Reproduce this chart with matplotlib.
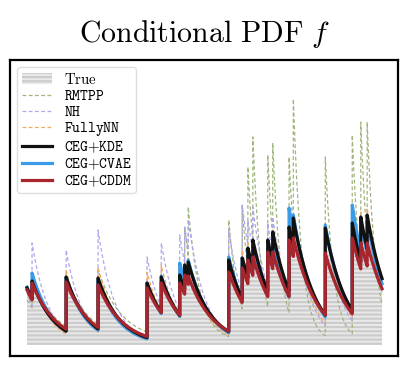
import numpy as np
import matplotlib
matplotlib.use("Agg")
import matplotlib.pyplot as plt

plt.rcParams['mathtext.fontset'] = 'cm'
plt.rcParams['hatch.linewidth'] = 1.6

# ---------------- data ----------------
t_end = 50.0
events = [0.7, 5.5, 10.0, 16.9, 18.9, 21.5, 22.2, 22.7, 28.4, 30.3,
          31.1, 31.8, 33.9, 34.6, 36.9, 37.5, 42.0, 45.8, 47.0, 47.9]

# value at t=0, then value right after each event
true_peaks = [2.8, 3.1, 3.25, 3.15, 2.95, 3.2, 3.3, 3.7, 3.8, 3.9, 4.1, 4.5,
              4.8, 4.9, 5.1, 5.5, 5.8, 5.2, 5.7, 5.7, 5.8]
rmtpp_peaks = [2.25, 3.3, 3.4, 3.75, 3.2, 3.4, 3.6, 5.9, 6.9, 6.25, 7.0, 8.9,
               10.4, 9.5, 10.1, 9.4, 12.3, 9.4, 10.5, 11.15, 11.15]
nh_peaks = [2.6, 5.1, 4.75, 5.75, 4.4, 5.1, 5.5, 5.9, 6.25, 5.75, 7.0, 6.25,
            6.9, 6.1, 6.4, 5.8, 6.4, 5.9, 6.2, 6.3, 6.4]
fullynn_peaks = [2.9, 3.5, 3.75, 3.9, 3.65, 4.0, 3.85, 4.15, 4.35, 4.5, 4.75,
                 5.1, 5.35, 5.0, 5.75, 5.9, 6.35, 6.1, 6.5, 6.65, 6.85]
kde_peaks = [2.85, 3.2, 3.4, 3.35, 3.1, 3.4, 3.5, 4.0, 4.15, 4.25, 4.35, 4.85,
             5.25, 5.25, 5.65, 5.9, 6.35, 5.85, 6.1, 6.4, 6.5]
cvae_peaks = [2.9, 3.6, 3.4, 3.25, 3.1, 3.45, 4.1, 4.0, 4.25, 4.4, 4.35, 4.75,
              5.0, 5.0, 5.25, 6.85, 6.5, 6.0, 7.0, 6.25, 6.25]
cddm_peaks = [2.75, 3.1, 3.15, 3.0, 2.85, 3.1, 3.1, 3.5, 3.45, 3.65, 3.85,
              4.25, 4.4, 4.65, 4.65, 5.25, 5.35, 4.6, 5.35, 5.1, 5.1]

# decay rate of each segment (RMTPP changes between the early and late parts)
rmtpp_decay = [0.3, 0.3, 0.3, 0.3, 0.3, 0.3, 0.5, 0.6, 0.6, 0.7, 0.8, 0.8,
               0.85, 0.85, 0.85, 0.85, 0.85, 0.85, 0.85, 0.85, 0.85]
decay = {'true': 0.29, 'nh': 0.42, 'fullynn': 0.39,
         'kde': 0.32, 'cvae': 0.34, 'cddm': 0.284}
rmtpp_base = 0.2


def intensity(peaks, rate, mu=0.0):
    starts = [0.0] + list(events)
    ends = list(events) + [t_end]
    rates = rate if np.ndim(rate) else [rate] * len(starts)
    ts, vs = [], []
    for s, e, p, r in zip(starts, ends, peaks, rates):
        tt = np.linspace(s, e, 60)
        ts.append(tt)
        vs.append(mu + (p - mu) * np.exp(-r * (tt - s)))
    return np.concatenate(ts), np.concatenate(vs)


fig = plt.figure(figsize=(4.07, 3.67), dpi=100)
ax = fig.add_axes([0.0246, 0.030, 0.9534, 0.8065])

t, y = intensity(true_peaks, decay['true'])
ax.fill_between(t, 0, y, facecolor='#e9e9e9', edgecolor='#cccccc',
                hatch='----', linewidth=0, label=r'$\mathrm{True}$', zorder=1)

dash = dict(lw=0.9, ls=(0, (3, 2)))
t, y = intensity(rmtpp_peaks, rmtpp_decay, rmtpp_base)
ax.plot(t, y, color='#9fb57c', label=r'$\mathtt{RMTPP}$', zorder=2, **dash)
t, y = intensity(nh_peaks, decay['nh'])
ax.plot(t, y, color='#b0a6ec', label=r'$\mathtt{NH}$', zorder=2, **dash)
t, y = intensity(fullynn_peaks, decay['fullynn'])
ax.plot(t, y, color='#f2aa5c', label=r'$\mathtt{FullyNN}$', zorder=2, **dash)

t, y = intensity(kde_peaks, decay['kde'])
ax.plot(t, y, color='#111111', lw=2.3, label=r'$\mathtt{CEG{+}KDE}$', zorder=4)
t, y = intensity(cvae_peaks, decay['cvae'])
ax.plot(t, y, color='#3b9be8', lw=2.3, label=r'$\mathtt{CEG{+}CVAE}$', zorder=3)
t, y = intensity(cddm_peaks, decay['cddm'])
ax.plot(t, y, color='#a8252d', lw=2.3, label=r'$\mathtt{CEG{+}CDDM}$', zorder=5)

ax.set_xlim(-2.4, 52.25)
ax.set_ylim(-0.55, 14.25)
ax.set_xticks([])
ax.set_yticks([])
for sp in ax.spines.values():
    sp.set_linewidth(1.6)
    sp.set_color('black')

ax.legend(loc='upper left', fontsize=10.7, fancybox=True, framealpha=0.8,
          edgecolor='#d8d8d8', labelspacing=0.07, borderpad=0.3,
          handletextpad=0.8)
ax.set_title(r'$\mathrm{Conditional\ PDF}\ f$', fontsize=21.5, pad=13)

fig.savefig('out.png', dpi=100)
